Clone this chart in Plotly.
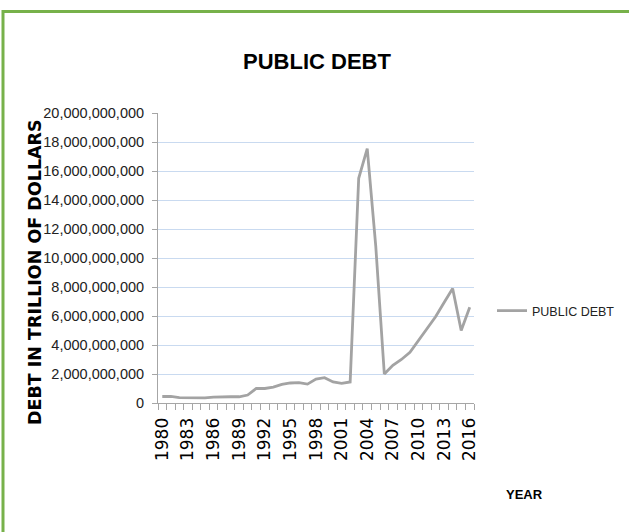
import plotly.graph_objects as go

years = list(range(1980, 2017))
public_debt = [
    450_000_000, 450_000_000, 370_000_000, 350_000_000, 350_000_000, 350_000_000,
    400_000_000, 430_000_000, 430_000_000, 430_000_000, 550_000_000, 1_000_000_000,
    1_000_000_000, 1_090_000_000, 1_280_000_000, 1_380_000_000, 1_400_000_000, 1_300_000_000,
    1_650_000_000, 1_750_000_000, 1_450_000_000, 1_350_000_000, 1_450_000_000, 15_500_000_000,
    17_550_000_000, 10_800_000_000, 2_000_000_000, 2_600_000_000, 3_000_000_000, 3_500_000_000,
    4_300_000_000, 5_180_000_000, 5_950_000_000, 6_930_000_000, 7_900_000_000, 5_000_000_000,
    6_600_000_000,
]
x_tick_years = list(range(1980, 2017, 3))
x_tick_labels = [str(y) for y in x_tick_years]

W, H = 629, 532
L, R, T, B = 158, 474, 113, 403


def px(xp):
    return (xp - L) / (R - L)


def py(yp):
    return (B - yp) / (B - T)


fig = go.Figure()
fig.add_trace(go.Scatter(
    x=years, y=public_debt, mode="lines", name="PUBLIC DEBT",
    line=dict(color="#a3a3a3", width=2.8),
))

sans = "Liberation Sans, Arial, sans-serif"

fig.update_layout(
    width=W, height=H,
    margin=dict(l=L, r=W - R, t=T, b=H - B, pad=0),
    paper_bgcolor="white", plot_bgcolor="white",
    title=dict(text="<b>PUBLIC DEBT</b>", x=317 / W, xanchor="center",
               y=1 - 61 / H, yanchor="middle",
               font=dict(family=sans, size=22, color="black")),
    showlegend=True,
    legend=dict(xref="container", yref="container",
                x=492 / W, y=1 - 311 / H, xanchor="left", yanchor="middle",
                font=dict(family=sans, size=12.5, color="#222222"),
                bgcolor="rgba(0,0,0,0)", itemwidth=30),
    xaxis=dict(
        range=[1979.5, 2016.5], tickmode="array", tickvals=x_tick_years,
        ticktext=x_tick_labels, tickangle=-90, ticks="", ticklabelstandoff=7,
        tickfont=dict(family="DejaVu Sans, Verdana, sans-serif", size=17, color="black"),
        showgrid=False, zeroline=False, showline=True, linecolor="#a6a6a6", linewidth=1,
        minor=dict(ticks="outside", ticklen=6, tickcolor="#a6a6a6", tick0=1979.5, dtick=1,
                   showgrid=False),
        automargin=False,
    ),
    yaxis=dict(
        range=[0, 20_000_000_000], dtick=2_000_000_000, tickformat=",d",
        ticks="outside", ticklen=5, tickcolor="#a6a6a6", ticklabelstandoff=5,
        tickfont=dict(family=sans, size=14.5, color="#222222"),
        showgrid=True, gridcolor="#c9daf0", gridwidth=1,
        zeroline=False, showline=True, linecolor="#a6a6a6", linewidth=1,
        automargin=False,
    ),
)

fig.add_annotation(text="<b>DEBT IN TRILLION OF DOLLARS</b>", textangle=-90,
                   xref="paper", yref="paper", x=px(35), y=py(272),
                   xanchor="center", yanchor="middle", showarrow=False,
                   font=dict(family="DejaVu Sans, Verdana, sans-serif", size=17.5, color="black"))
fig.add_annotation(text="<b>YEAR</b>", xref="paper", yref="paper",
                   x=px(524), y=py(494), xanchor="center", yanchor="middle",
                   showarrow=False, font=dict(family=sans, size=13, color="black"))

green = "#77b14a"
fig.add_shape(type="line", xref="paper", yref="paper",
              x0=px(2), x1=px(640), y0=py(11.5), y1=py(11.5),
              line=dict(color=green, width=3))
fig.add_shape(type="line", xref="paper", yref="paper",
              x0=px(3), x1=px(3), y0=py(10), y1=py(545),
              line=dict(color=green, width=3))

fig.write_html("out.html", config={"displayModeBar": False},
               post_script="document.body.style.margin='0';")
